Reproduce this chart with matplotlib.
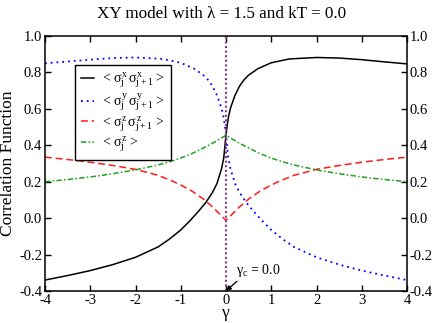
import numpy as np
import matplotlib
matplotlib.use("Agg")
import matplotlib.pyplot as plt

plt.rcParams['font.family'] = ['Liberation Serif', 'DejaVu Serif']
plt.rcParams['mathtext.fontset'] = 'custom'
plt.rcParams['mathtext.rm'] = 'Liberation Serif'
plt.rcParams['mathtext.it'] = 'Liberation Serif'
plt.rcParams['mathtext.bf'] = 'Liberation Serif:bold'

# values
gamma_x = [-4, -3.5, -3, -2.5, -2, -1.5, -1.25, -1.0, -0.8, -0.6, -0.45, -0.3, -0.2, -0.1, -0.05, 0,
           0.05, 0.1, 0.2, 0.3, 0.4, 0.5, 0.7, 1.0, 1.4, 2.0, 2.5, 3.0, 3.5, 4.0]
corr_x = [-0.34, -0.315, -0.288, -0.255, -0.215, -0.158, -0.115, -0.065, -0.015, 0.04, 0.085, 0.14, 0.19, 0.27, 0.33, 0.46,
          0.55, 0.605, 0.675, 0.725, 0.76, 0.785, 0.82, 0.853, 0.874, 0.882, 0.879, 0.87, 0.858, 0.847]

gamma_y = [-4.0, -3.5, -3.0, -2.5, -2.0, -1.4, -1.0, -0.7, -0.5, -0.4, -0.3, -0.2, -0.1, -0.05, 0,
           0.05, 0.1, 0.2, 0.3, 0.45, 0.6, 0.8, 1.0, 1.25, 1.5, 2, 2.5, 3, 3.5, 4]
corr_y = [0.85, 0.86, 0.87, 0.879, 0.882, 0.874, 0.853, 0.82, 0.785, 0.76, 0.725, 0.675, 0.605, 0.55, 0.46,
          0.33, 0.27, 0.19, 0.14, 0.085, 0.04, -0.015, -0.065, -0.115, -0.158, -0.215, -0.255, -0.288, -0.315, -0.34]

gamma_z = [-4, -3.5, -3, -2.5, -2, -1.5, -1.2, -1.0, -0.75, -0.5, -0.3, -0.15, 0,
           0.15, 0.3, 0.5, 0.75, 1.0, 1.2, 1.5, 2, 2.5, 3, 3.5, 4]
corr_z = [0.335, 0.322, 0.307, 0.289, 0.268, 0.235, 0.205, 0.182, 0.148, 0.105, 0.062, 0.025, -0.012,
          0.025, 0.062, 0.105, 0.148, 0.182, 0.205, 0.235, 0.268, 0.289, 0.307, 0.322, 0.335]

gamma_m = [-4, -3.5, -3, -2.5, -2, -1.5, -1.2, -1.0, -0.75, -0.5, -0.25, 0,
           0.25, 0.5, 0.75, 1.0, 1.2, 1.5, 2, 2.5, 3, 3.5, 4]
mag_z = [0.2, 0.212, 0.226, 0.244, 0.265, 0.292, 0.313, 0.33, 0.355, 0.385, 0.418, 0.455,
         0.418, 0.385, 0.355, 0.33, 0.313, 0.292, 0.265, 0.244, 0.226, 0.212, 0.2]

gamma_c = 0.0

fig = plt.figure(figsize=(4.36, 3.23), dpi=100)
ax = fig.add_axes([45/436, 32/323, 362/436, 255/323])

ax.plot(gamma_x, corr_x, color='black', lw=1.1, ls='-',
        label=r"< $\sigma_j^x\,\sigma_{j+1}^x$ >")
ax.plot(gamma_y, corr_y, color='#0000ff', lw=1.3, ls=(0, (1, 2.2)),
        label=r"< $\sigma_j^y\,\sigma_{j+1}^y$ >")
ax.plot(gamma_z, corr_z, color='#ff1a1a', lw=1.1, ls=(0, (4.5, 2.5)),
        label=r"< $\sigma_j^z\,\sigma_{j+1}^z$ >")
ax.plot(gamma_m, mag_z, color='#1fa01f', lw=1.1, ls=(0, (3.5, 1.5, 1, 1.5)),
        label=r"< $\sigma_j^z$ >")
ax.axvline(gamma_c, color='#8a3a80', lw=1.5, ls=(0, (1, 1.2)))

ax.set_xlim(-4, 4)
ax.set_ylim(-0.4, 1.0)
ax.set_xticks(np.arange(-4, 5, 1))
ax.set_yticks(np.arange(-0.4, 1.01, 0.2))
ax.set_yticklabels(['-0.4', '-0.2', '0.0', '0.2', '0.4', '0.6', '0.8', '1.0'])
ax.set_xticklabels(['-4', '-3', '-2', '-1', '0', '1', '2', '3', '4'])
ax.tick_params(direction='in', top=True, right=True, labelright=True,
               length=4, width=1, labelsize=10.5, pad=2)
for s in ax.spines.values():
    s.set_linewidth(1.1)

ax.set_xlabel("γ", fontsize=12.5, labelpad=-1)
fig.text(8/436, 1 - 163.5/323, "Correlation Function", rotation=90,
         ha='center', va='center', fontsize=12.5)
fig.text(222/436, 1 - 14/323, "XY model with λ = 1.5 and kT = 0.0",
         ha='center', va='center', fontsize=12.3)

ax.annotate(r"γ$_{\rm c}$ = 0.0", xy=(gamma_c, -0.4), xytext=(0.21, -0.285),
            ha='left', va='center', fontsize=10,
            arrowprops=dict(arrowstyle='-|>', color='black', lw=1,
                            mutation_scale=7, relpos=(0.1, 0), shrinkA=0, shrinkB=0))

leg = ax.legend(loc='upper left', bbox_to_anchor=(0.083, 0.886), borderaxespad=0,
                fontsize=10, handlelength=0.95, handletextpad=0.6,
                labelspacing=0.06, fancybox=False, framealpha=1, borderpad=0.4)
leg.get_frame().set_edgecolor('black')
leg.get_frame().set_linewidth(1)

fig.savefig("out.png", dpi=100)
